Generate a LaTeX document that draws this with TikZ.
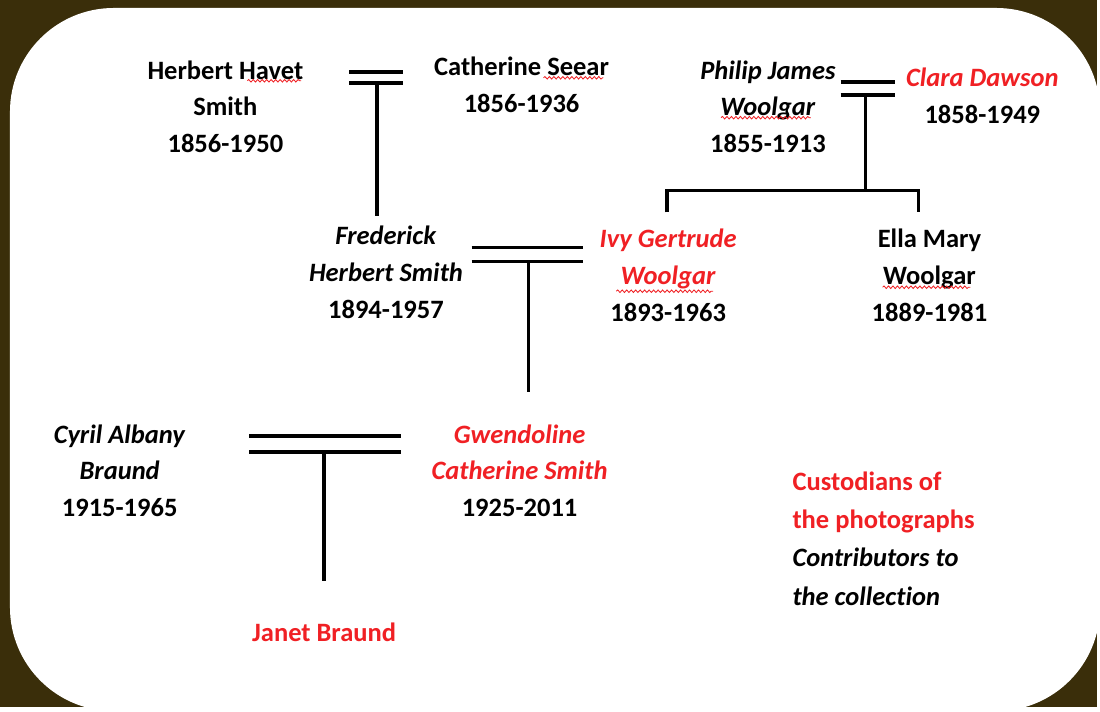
\documentclass[tikz,border=0pt]{standalone}
\usepackage{fontspec}
\setmainfont{Carlito}[Ligatures={NoCommon,NoRare}]
\usetikzlibrary{decorations.pathmorphing}
\definecolor{frame}{RGB}{58,46,10}
\definecolor{custred}{RGB}{240,32,36}

\begin{document}
\begin{tikzpicture}[x=0.025cm,y=-0.025cm,
        person/.style = {align=center, inner sep=1pt, font=\fontsize{18.9}{26.3}\selectfont\bfseries},
        wed/.style = {line width=2.5pt},
        spell/.style = {draw=custred, line width=0.6pt, decorate, decoration={snake, amplitude=0.9pt, segment length=3.2pt}}]
        % frame
        \fill[frame] (0,0) rectangle (1100,709);
        \fill[white, rounded corners=2.6cm] (10,8) rectangle (1103,713);
        % people
        \node[person] (herbert) at (226,107) {Herbert Havet\\Smith\\1856-1950};
        \node[person] (catherine) at (523,85) {Catherine Seear\\1856-1936};
        \node[person] (philip) at (770,107) {\textit{Philip James}\\\textit{Woolgar}\\1855-1913};
        \node[person] (clara) at (985,96) {\textcolor{custred}{\textit{Clara Dawson}}\\1858-1949};
        \node[person] (frederick) at (387,273) {\textit{Frederick}\\\textit{Herbert Smith}\\1894-1957};
        \node[person] (ivy) at (670,276) {\textcolor{custred}{\textit{Ivy Gertrude}}\\\textcolor{custred}{\textit{Woolgar}}\\1893-1963};
        \node[person] (ella) at (932,276) {Ella Mary\\Woolgar\\1889-1981};
        \node[person] (cyril) at (120,472) {\textit{Cyril Albany}\\\textit{Braund}\\1915-1965};
        \node[person] (gwen) at (521,472) {\textcolor{custred}{\textit{Gwendoline}}\\\textcolor{custred}{\textit{Catherine Smith}}\\1925-2011};
        \node[person] (janet) at (325,634) {\textcolor{custred}{Janet Braund}};
        \node[person, align=left, anchor=west, font=\fontsize{18.9}{27.3}\selectfont\bfseries] (legend) at (793,540)
            {\textcolor{custred}{Custodians of}\\\textcolor{custred}{the photographs}\\\textit{Contributors to}\\\textit{the collection}};
        % marriages
        \coordinate (w1) at (378,83);
        \coordinate (w2) at (868,95);
        \coordinate (w3) at (530,262);
        \coordinate (w4) at (325,453);
        \draw[wed] (350,72) -- (404,72) (350,83) -- (404,83);
        \draw[wed] (843,82) -- (897,82) (843,95) -- (897,95);
        \draw[wed] (473,248) -- (585,248) (473,262) -- (585,262);
        \draw[wed] (250,437) -- (402,437) (250,453) -- (402,453);
        % descent
        \coordinate (fork) at (868,191);
        \coordinate (ivyleg) at (669,213);
        \coordinate (ellaleg) at (921,213);
        \coordinate (fredtop) at (378,217);
        \coordinate (gwentop) at (530,393);
        \coordinate (janettop) at (325,583);
        \draw[wed] (w1) -- (fredtop);
        \draw[wed] (w2) -- (fork);
        \draw[wed] (ivyleg) |- (fork) -| (ellaleg);
        \draw[wed] (w3) -- (gwentop);
        \draw[wed] (w4) -- (janettop);
        % spelling marks
        \draw[spell] (248,81) -- (302,81);
        \draw[spell] (545,78) -- (605,78);
        \draw[spell] (723,118) -- (813,118);
        \draw[spell] (618,292) -- (715,292);
        \draw[spell] (885,288) -- (973,288);
\end{tikzpicture}
\end{document}
